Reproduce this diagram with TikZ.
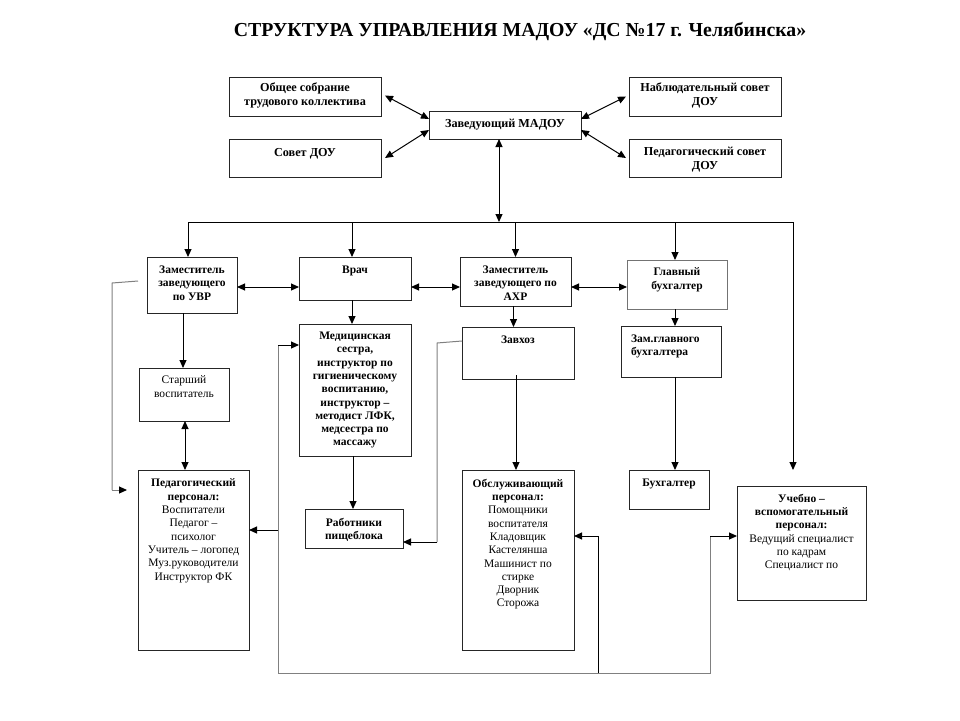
\documentclass[tikz,border=0pt]{standalone}
\usepackage{fontspec}
\setmainfont{Liberation Serif}
\usetikzlibrary{arrows.meta,calc}
\newcommand\bx[8][4pt]{%
 \pgfmathsetmacro\mybw{#6-#4}\pgfmathsetmacro\mybh{#7-#5}%
 \node[#2,minimum width=\mybw pt,minimum height=\mybh pt] (#3) at ({(#4+#6)/2},{(#5+#7)/2})
 {\parbox[c][\mybh pt][t]{\dimexpr\mybw pt-4pt\relax}{\vspace*{#1}\centering #8\par}};}
\begin{document}
\begin{tikzpicture}[x=1pt,y=-1pt,
  box/.style={draw=black!85,line width=1pt,inner sep=0pt,outer sep=0pt,
    font=\fontsize{11.5}{13.3}\selectfont},
  bbox/.style={box,font=\fontsize{11.5}{13.3}\selectfont\bfseries},
  tbox/.style={box,font=\fontsize{12.2}{14}\selectfont\bfseries},
  ar/.style={line width=1pt,-{Triangle[length=8pt,width=7pt]}},
  dar/.style={line width=1pt,{Triangle[length=8pt,width=7pt]}-{Triangle[length=8pt,width=7pt]}},
  gl/.style={line width=1pt,draw=black!50},
  gar/.style={gl,-{Triangle[length=8pt,width=7pt,color=black]}},
]
\fill[white] (0,0) rectangle (960,720);
\node[font=\fontsize{19.8}{22}\selectfont\bfseries] (title) at (520,32) {СТРУКТУРА УПРАВЛЕНИЯ МАДОУ «ДС №17 г. Челябинска»};

% top row
\bx[6pt]{tbox}{obs}{229}{77}{381}{116}{Общее собрание\\трудового коллектива}
\bx[9pt]{tbox}{sovet}{229}{139}{381}{177}{Совет ДОУ}
\bx[8pt]{tbox}{zav}{429}{111}{581}{139}{Заведующий МАДОУ}
\bx[6pt]{tbox}{nab}{629}{77}{781}{116}{Наблюдательный совет\\ДОУ}
\bx[8pt]{tbox}{pedsov}{629}{139}{781}{177}{Педагогический совет\\ДОУ}

% second row
\bx[9pt]{bbox}{zuvr}{147}{257}{237}{313}{Заместитель\\заведующего\\по УВР}
\bx[9pt]{bbox}{vrach}{299}{257}{411}{300}{Врач}
\bx[9pt]{bbox}{zahr}{460}{257}{571}{306}{Заместитель\\заведующего по\\АХР}
\bx[8pt]{bbox,draw=black!55}{glbuh}{627}{260}{727}{309}{Главный\\бухгалтер}

% third row
\bx[8pt]{box}{starsh}{139}{368}{229}{421}{Старший\\воспитатель}
\bx[8pt]{bbox}{med}{299}{324}{411}{456}{Медицинская\\сестра,\\инструктор по\\гигиеническому\\воспитанию,\\инструктор –\\методист ЛФК,\\медсестра по\\массажу}
\bx[9pt]{bbox}{zavhoz}{462}{327}{574}{379}{Завхоз}
\bx[9pt]{bbox}{zamgl}{621}{326}{721}{377}{\raggedright\leftskip=8pt Зам.главного\\бухгалтера}

% fourth row
\bx[9pt]{box}{pedp}{138}{470}{249}{650}{\textbf{Педагогический\\персонал:}\\Воспитатели\\Педагог –\\психолог\\Учитель – логопед\\Муз.руководители\\Инструктор ФК}
\bx[9pt]{bbox}{rab}{305}{509}{403}{548}{Работники\\пищеблока}
\bx[9pt]{box}{obsl}{462}{470}{574}{650}{\textbf{Обслуживающий\\персонал:}\\Помощники\\воспитателя\\Кладовщик\\Кастелянша\\Машинист по\\стирке\\Дворник\\Сторожа}
\bx[9pt]{bbox}{buh}{629}{470}{709}{509}{Бухгалтер}
\bx[8pt]{box}{uch}{737}{486}{866}{600}{\textbf{Учебно –\\вспомогательный\\персонал:}\\Ведущий специалист\\по кадрам\\Специалист по}

% top arrows
\draw[dar] ([xshift=4pt,yshift=1pt]obs.east) -- ([yshift=6pt]zav.west);
\draw[dar] ([xshift=4pt]sovet.east) -- ([yshift=-5pt]zav.west);
\draw[dar] ([yshift=6pt]zav.east) -- ([xshift=-3pt]nab.west);
\draw[dar] ([yshift=-5pt]zav.east) -- ([xshift=-3pt]pedsov.west);

% bus
\coordinate (bus) at (0,222);
\coordinate (busR) at (793,222);
\coordinate (uchA) at (793,470);
\draw[dar] ([xshift=-6pt]zav.south |- bus) -- ([xshift=-6pt]zav.south);
\draw[line width=1pt] ([xshift=-4pt]zuvr.north |- bus) -- (busR);
\draw[ar] (busR) -- (uchA);
\draw[ar] ([xshift=-4pt]zuvr.north |- bus) -- ([xshift=-4pt]zuvr.north);
\draw[ar] ([xshift=-3pt]vrach.north |- bus) -- ([xshift=-3pt]vrach.north);
\draw[ar] (zahr.north |- bus) -- (zahr.north);
\draw[ar] ([xshift=-2pt]glbuh.north |- bus) -- ([xshift=-2pt]glbuh.north);

% horizontal links row 2
\coordinate (h2) at (0,287);
\draw[dar] (zuvr.east |- h2) -- (vrach.west |- h2);
\draw[dar] (vrach.east |- h2) -- (zahr.west |- h2);
\draw[dar] (zahr.east |- h2) -- (glbuh.west |- h2);

% row 2 -> row 3
\draw[ar] ([xshift=-1pt]starsh.north |- zuvr.south) -- ([xshift=-1pt]starsh.north);
\draw[ar] ([xshift=-3pt]vrach.south) -- ([xshift=-3pt]vrach.south |- med.north);
\draw[ar] ([xshift=-2pt]zahr.south) -- ([xshift=-2pt]zahr.south |- zavhoz.north);
\draw[ar] ([xshift=-2pt]glbuh.south) -- ([xshift=-2pt]glbuh.south |- zamgl.north);

% row 3 -> row 4
\draw[dar] ([xshift=1pt]starsh.south) -- ([xshift=1pt]starsh.south |- pedp.north);
\draw[ar] ([xshift=-2pt]med.south) -- ([xshift=-2pt]med.south |- rab.north);
\draw[ar] ([xshift=-2pt,yshift=4pt]zavhoz.south) -- ([xshift=-2pt]zavhoz.south |- obsl.north);
\draw[ar] ([xshift=4pt]zamgl.south) -- ([xshift=4pt]zamgl.south |- buh.north);

% grey line from zam UVR to ped. personnel
\coordinate (g1a) at (112,283);
\coordinate (g1b) at (112,490);
\coordinate (g1c) at (127,490);
\draw[gl] ([xshift=-9pt,yshift=4pt]zuvr.west) -- (g1a) -- (g1b);
\draw[gar] (g1b) -- (g1c);

% grey line from zavhoz to kitchen staff
\coordinate (g2a) at (437,343);
\coordinate (g2b) at (437,542);
\draw[gl] ([yshift=12pt]zavhoz.west) -- (g2a) -- (g2b);
\draw[ar] (g2b) -- (rab.east |- g2b);

% big loop
\coordinate (L1) at (278,345);
\coordinate (L2) at (278,530);
\coordinate (L3) at (278,673);
\coordinate (L4) at (598,673);
\coordinate (L5) at (598,536);
\coordinate (L6) at (710,673);
\coordinate (L7) at (710,536);
\draw[gl] (L1) -- (L3) -- (L6) -- (L7);
\draw[ar] (L1) -- (med.west |- L1);
\draw[ar] (L2) -- (pedp.east |- L2);
\draw[line width=1pt] (L4) -- (L5);
\draw[ar] (L5) -- (obsl.east |- L5);
\draw[ar] (L7) -- (uch.west |- L7);
\end{tikzpicture}
\end{document}
